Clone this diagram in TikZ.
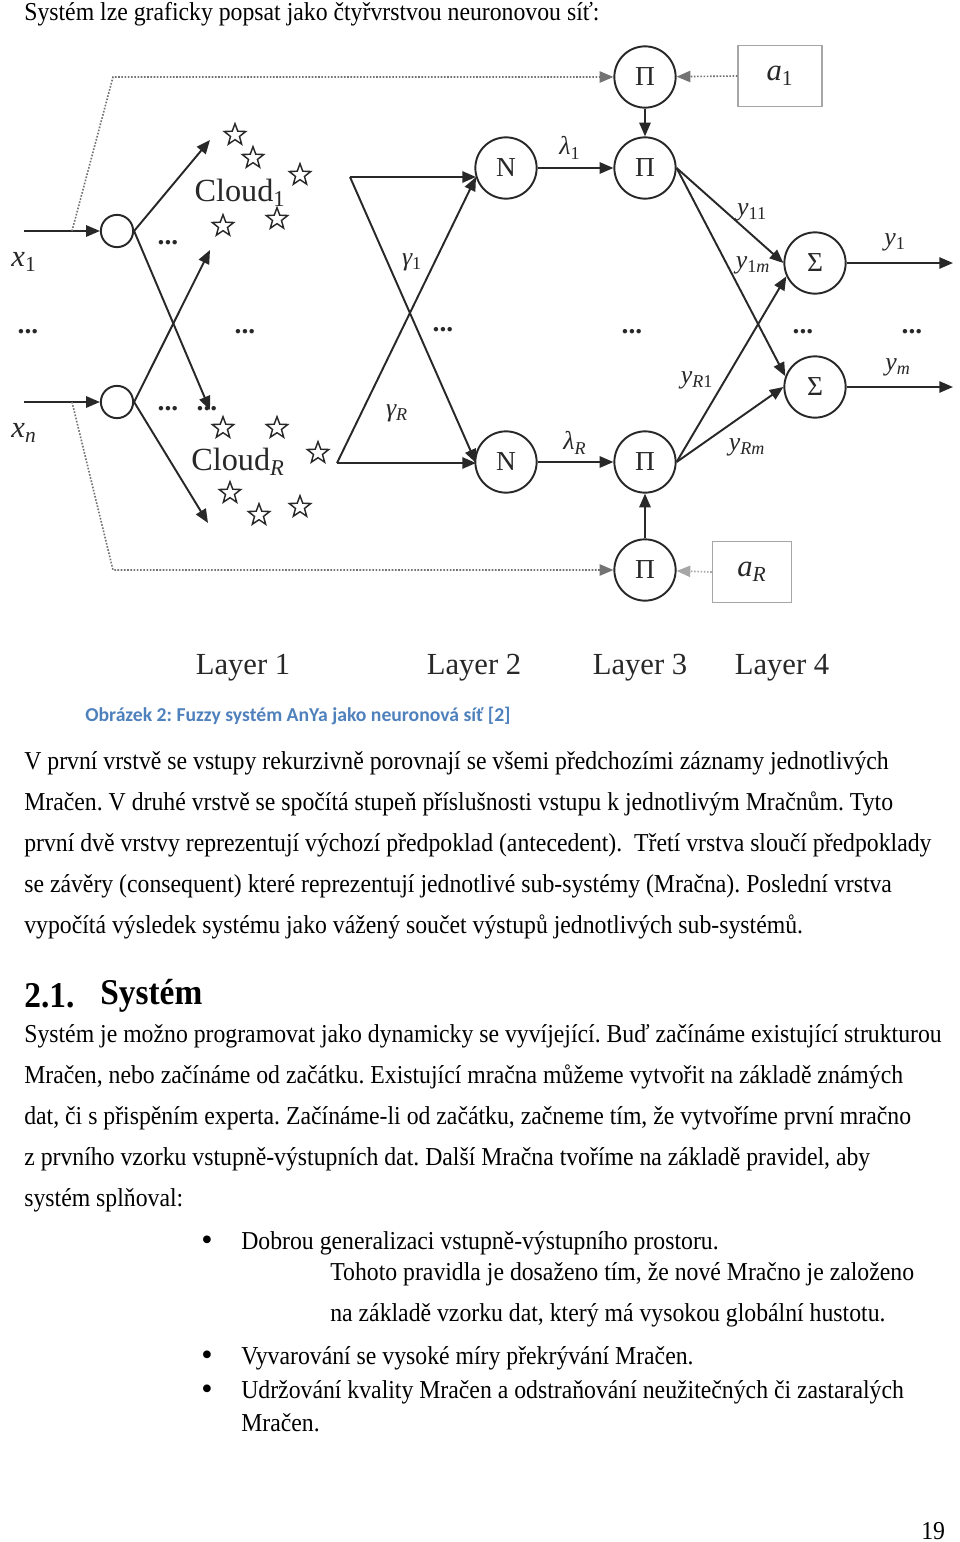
\documentclass[tikz,border=0pt]{standalone}
\usepackage{fontspec}
\setmainfont{Liberation Serif}
\newfontfamily\bodyfont[FakeStretch=0.92]{Liberation Serif}
\newfontfamily\capfont{Carlito}
\usetikzlibrary{arrows.meta, shapes.geometric, calc}
\definecolor{capblue}{RGB}{79,129,189}
\definecolor{ink}{RGB}{40,40,40}
\tikzset{
  neuron/.style={circle, draw=ink, line width=1.2pt, minimum size=38pt, inner sep=0pt, text=ink, font=\fontsize{17}{17}\selectfont},
  inpt/.style={circle, draw=ink, line width=1.2pt, minimum size=20pt, inner sep=0pt},
  starpt/.style={star, star points=5, star point ratio=2.4, draw=ink, line width=0.9pt, minimum size=14pt, inner sep=0pt},
  arr/.style={-{Triangle[length=8.5pt,width=7pt]}, line width=1.2pt, draw=ink},
  dotln/.style={dash pattern=on 1pt off 1pt, line width=1pt, draw=black!55},
  wbox/.style={draw=black!35, line width=0.8pt, inner sep=0pt, text=ink, font=\fontsize{19}{19}\selectfont\itshape},
  lbl/.style={inner sep=0pt, text=ink, font=\fontsize{16}{16}\selectfont\itshape},
  dots/.style={inner sep=0pt, text=ink, font=\fontsize{17}{17}\selectfont\bfseries},
  txt/.style={anchor=west, inner sep=0pt, font=\bodyfont\fontsize{16}{16}\selectfont},
}
\newcommand{\txtline}[4]{\node[txt] (#1) at (#2,#3) {#4};}
\frenchspacing

\begin{document}
\begin{tikzpicture}[x=0.62pt, y=-0.62pt]
  \fill[white] (0,0) rectangle (960,1542);
  \useasboundingbox (0,0) rectangle (960,1542);

  \txtline{intro}{24}{14}{Systém lze graficky popsat jako čtyřvrstvou neuronovou síť:}

  % layer 1: inputs and clouds
  \coordinate (x1) at (24,231);
  \coordinate (xn) at (24,402);
  \node[inpt] (C1) at (117,231) {};
  \node[inpt] (Cn) at (117,402) {};
  \draw[arr] (x1) -- (C1);
  \draw[arr] (xn) -- (Cn);
  \node[lbl, font=\fontsize{19}{19}\selectfont\itshape] (lx1) at (24,262) {x\textsubscript{\upshape 1}};
  \node[lbl, font=\fontsize{19}{19}\selectfont\itshape] (lxn) at (24,433) {x\textsubscript{n}};

  \coordinate (K1a) at (210,140);
  \coordinate (K1b) at (210,410);
  \coordinate (Kna) at (210,250);
  \coordinate (Knb) at (208,523);
  \draw[arr] (C1.east) -- (K1a);
  \draw[arr] (C1.east) -- (K1b);
  \draw[arr] (Cn.east) -- (Kna);
  \draw[arr] (Cn.east) -- (Knb);

  \foreach \sx/\sy [count=\i] in {235/135, 253/158, 300/175, 223/226, 277/219}
    \node[starpt] (s1\i) at (\sx,\sy) {};
  \foreach \sx/\sy [count=\i] in {223/428, 277/428, 318/453, 230/493, 259/515, 300/507}
    \node[starpt] (sR\i) at (\sx,\sy) {};
  \node[inner sep=0pt, text=ink, font=\fontsize{20}{20}\selectfont] (cl1) at (240,193) {Cloud\textsubscript{1}};
  \node[inner sep=0pt, text=ink, font=\fontsize{20}{20}\selectfont] (clR) at (238,462) {Cloud\textsubscript{\itshape R}};

  % layer 2
  \node[neuron] (N1) at (506,168) {N};
  \node[neuron] (NR) at (506,462) {N};
  \coordinate (T2) at (350,177);
  \coordinate (B2) at (337,463);
  \coordinate (N1in) at (476,177);
  \coordinate (NRin) at (476,463);
  \draw[arr] (T2) -- (N1in);
  \draw[arr] (B2) -- (N1in);
  \draw[arr] (T2) -- (NRin);
  \draw[arr] (B2) -- (NRin);
  \node[lbl] (g1) at (412,262) {γ\textsubscript{\upshape 1}};
  \node[lbl] (gR) at (397,413) {γ\textsubscript{R}};

  % layer 3
  \node[neuron] (P0) at (645,77) {Π};
  \node[neuron] (P1) at (645,168) {Π};
  \node[neuron] (PR) at (645,462) {Π};
  \node[neuron] (PB) at (645,570) {Π};
  \node[wbox, minimum width=52pt, minimum height=38pt] (a1) at (780,76) {a\textsubscript{\upshape 1}};
  \node[wbox, minimum width=49pt, minimum height=38pt] (aR) at (752,572) {a\textsubscript{R}};
  \draw[arr] (N1) -- (P1);
  \draw[arr] (NR) -- (PR);
  \draw[arr] (P0) -- (P1);
  \draw[arr] (PB) -- (PR);
  \node[lbl] (l1) at (570,148) {λ\textsubscript{\upshape 1}};
  \node[lbl] (lR) at (575,443) {λ\textsubscript{R}};

  % recurrent (dotted) links
  \coordinate (D1) at (72,231);
  \coordinate (D1t) at (113,77);
  \coordinate (Dn) at (72,402);
  \coordinate (Dnb) at (113,570);
  \draw[dotln] (D1) -- (D1t) -- ($(P0.west)+(-12,0)$);
  \draw[arr, dotln, draw=black!55] ($(P0.west)+(-14,0)$) -- (P0);
  \draw[dotln] (Dn) -- (Dnb) -- ($(PB.west)+(-12,0)$);
  \draw[arr, dotln, draw=black!55] ($(PB.west)+(-14,0)$) -- (PB);
  \draw[arr, dotln, draw=black!55] (a1.west) -- (P0);
  \draw[arr, dotln, draw=black!35] (aR.west) -- (PB);

  % layer 4
  \node[neuron] (S1) at (815,263) {Σ};
  \node[neuron] (S2) at (815,387) {Σ};
  \coordinate (y1o) at (953,263);
  \coordinate (ymo) at (953,387);
  \draw[arr] (P1.east) -- (S1.west);
  \draw[arr] (P1.east) -- (S2.160);
  \draw[arr] (PR.east) -- (S1.205);
  \draw[arr] (PR.east) -- (S2.west);
  \draw[arr] (S1) -- (y1o);
  \draw[arr] (S2) -- (ymo);
  \node[lbl] (y11) at (752,212) {y\textsubscript{\upshape 11}};
  \node[lbl] (y1m) at (753,265) {y\textsubscript{{\upshape 1}m}};
  \node[lbl] (yR1) at (697,380) {y\textsubscript{R\upshape 1}};
  \node[lbl] (yRm) at (747,447) {y\textsubscript{Rm}};
  \node[lbl] (y1) at (895,242) {y\textsubscript{\upshape 1}};
  \node[lbl] (ym) at (898,367) {y\textsubscript{m}};

  % ellipses
  \foreach \dx/\dy [count=\i] in {28/332, 245/332, 443/330, 632/332, 803/332, 912/332, 168/243, 168/409, 207/409}
    \node[dots] (e\i) at (\dx,\dy) {...};

  % layer names
  \foreach \lx/\ln in {243/1, 474/2, 640/3, 782/4}
    \node[inner sep=0pt, text=ink, font=\fontsize{19}{19}\selectfont] (layer\ln) at (\lx,668) {Layer \ln};

  % caption and text
  \node[txt, text=capblue, font=\capfont\bfseries\fontsize{12.2}{12.2}\selectfont] (cap) at (85,716) {Obrázek 2: Fuzzy systém AnYa jako neuronová síť [2]};
  \txtline{t1}{24}{763}{V první vrstvě se vstupy rekurzivně porovnají se všemi předchozími záznamy jednotlivých}
  \txtline{t2}{24}{804}{Mračen. V druhé vrstvě se spočítá stupeň příslušnosti vstupu k jednotlivým Mračnům. Tyto}
  \txtline{t3}{24}{845}{první dvě vrstvy reprezentují výchozí předpoklad (antecedent).\ \ Třetí vrstva sloučí předpoklady}
  \txtline{t4}{24}{886}{se závěry (consequent) které reprezentují jednotlivé sub-systémy (Mračna). Poslední vrstva}
  \txtline{t5}{24}{927}{vypočítá výsledek systému jako vážený součet výstupů jednotlivých sub-systémů.}
  \node[txt, font=\bodyfont\bfseries\fontsize{22.5}{22.5}\selectfont] (h1) at (24,996) {2.1.};
  \node[txt, font=\bodyfont\bfseries\fontsize{22.5}{22.5}\selectfont] (h2) at (100,996) {Systém};
  \txtline{t6}{24}{1036}{Systém je možno programovat jako dynamicky se vyvíjející. Buď začínáme existující strukturou}
  \txtline{t7}{24}{1077}{Mračen, nebo začínáme od začátku. Existující mračna můžeme vytvořit na základě známých}
  \txtline{t8}{24}{1118}{dat, či s přispěním experta. Začínáme-li od začátku, začneme tím, že vytvoříme první mračno}
  \txtline{t9}{24}{1159}{z prvního vzorku vstupně-výstupních dat. Další Mračna tvoříme na základě pravidel, aby}
  \txtline{t10}{24}{1200}{systém splňoval:}
  \foreach \by [count=\i] in {1243, 1358, 1392}
    \node[txt, font=\fontsize{20}{20}\selectfont] (bul\i) at (201,\by) {•};
  \txtline{b1}{241}{1243}{Dobrou generalizaci vstupně-výstupního prostoru.}
  \txtline{b1a}{330}{1274}{Tohoto pravidla je dosaženo tím, že nové Mračno je založeno}
  \txtline{b1b}{330}{1315}{na základě vzorku dat, který má vysokou globální hustotu.}
  \txtline{b2}{241}{1358}{Vyvarování se vysoké míry překrývání Mračen.}
  \txtline{b3}{241}{1392}{Udržování kvality Mračen a odstraňování neužitečných či zastaralých}
  \txtline{b3a}{241}{1423}{Mračen.}
  \txtline{pg}{921}{1531}{19}
\end{tikzpicture}
\end{document}
